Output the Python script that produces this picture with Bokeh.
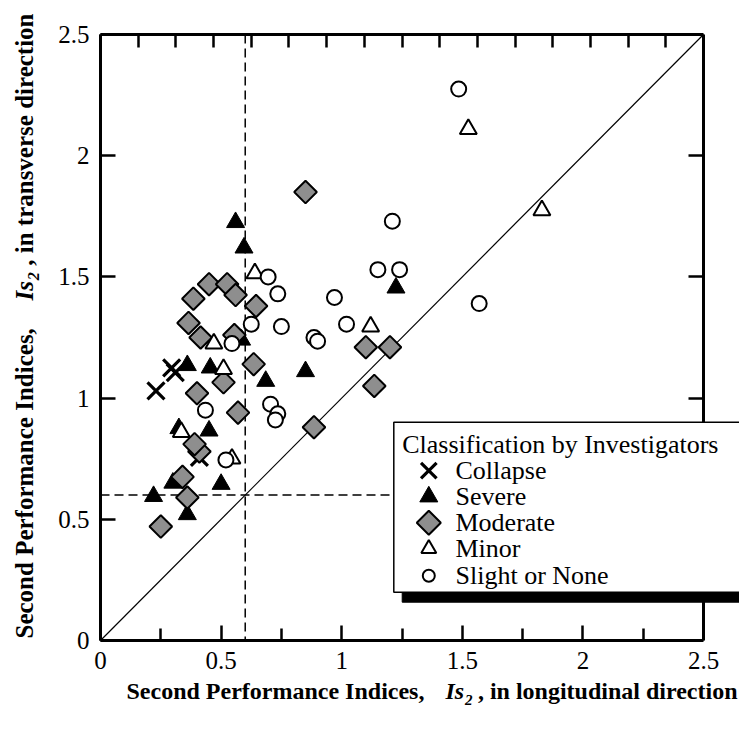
import numpy as np
from bokeh.plotting import figure
from bokeh.layouts import column, row
from bokeh.models import FixedTicker, LinearAxis, Span, Label, BoxAnnotation, Range1d
from bokeh.embed import file_html
from bokeh.resources import INLINE

# ---------------- data ----------------
collapse_x = [0.23, 0.295, 0.31, 0.41]
collapse_y = [1.03, 1.125, 1.105, 0.755]

severe_x = [0.22, 0.30, 0.36, 0.325, 0.45, 0.50, 0.36, 0.455, 0.56, 0.595, 0.585, 0.685, 0.85, 1.225]
severe_y = [0.595, 0.65, 0.52, 0.875, 0.865, 0.645, 1.135, 1.125, 1.725, 1.62, 1.24, 1.07, 1.11, 1.455]

moderate_x = [0.25, 0.36, 0.34, 0.41, 0.39, 0.57, 0.40, 0.51, 0.635, 0.415, 0.555, 0.365,
              0.645, 0.385, 0.45, 0.525, 0.56, 0.85, 0.885, 1.10, 1.20, 1.135]
moderate_y = [0.47, 0.59, 0.675, 0.78, 0.81, 0.94, 1.02, 1.065, 1.14, 1.25, 1.26, 1.31,
              1.38, 1.41, 1.47, 1.47, 1.425, 1.85, 0.88, 1.21, 1.21, 1.05]

minor_x = [0.335, 0.545, 0.51, 0.47, 0.64, 1.12, 1.525, 1.83]
minor_y = [0.86, 0.75, 1.12, 1.225, 1.515, 1.295, 2.11, 1.775]

slight_x = [0.52, 0.435, 0.705, 0.735, 0.725, 0.545, 0.625, 0.695, 0.735, 0.75, 0.885,
            0.90, 0.97, 1.02, 1.15, 1.24, 1.21, 1.485, 1.57]
slight_y = [0.745, 0.95, 0.975, 0.935, 0.91, 1.225, 1.305, 1.50, 1.43, 1.295, 1.25,
            1.235, 1.415, 1.305, 1.53, 1.53, 1.73, 2.275, 1.39]

x_ticks = [0, 0.5, 1, 1.5, 2, 2.5]
x_tick_labels = ["0", "0.5", "1", "1.5", "2", "2.5"]
x_minor_ticks = [0.25, 0.75, 1.25, 1.75, 2.25]
y_ticks = [0, 0.5, 1, 1.5, 2, 2.5]
y_tick_labels = ["0", "0.5", "1", "1.5", "2", "2.5"]
top_ticks = [i * 2.5 / 16 for i in range(17)]

threshold = 0.6
axis_max = 2.5

legend_title = "Classification by Investigators"
legend_labels = ["Collapse", "Severe", "Moderate", "Minor", "Slight or None"]

# ---------------- layout ----------------
W, H = 739, 729
YT_W = 46            # column holding the y-axis title
PW, PH = W - YT_W, 678   # main figure
XT_H = H - PH        # strip holding the x-axis title
BL, BT, BB = 100 - YT_W, 34, 38
FRAME_W_AXIS = 603   # pixels between x=0 and x=2.5
FH = PH - BT - BB
PPU_X = FRAME_W_AXIS / axis_max
PPU_Y = FH / axis_max
x_end = (PW - BL) / PPU_X   # frame runs to the right canvas edge
SERIF = "Liberation Serif"

p = figure(width=PW, height=PH, x_range=Range1d(0, x_end), y_range=Range1d(0, axis_max),
           title=None, output_backend="svg", toolbar_location=None,
           min_border_left=BL, min_border_right=0, min_border_top=BT, min_border_bottom=BB,
           background_fill_color="white", border_fill_color="white")
p.outline_line_color = None
p.xgrid.grid_line_color = None
p.ygrid.grid_line_color = None
HAS_FRAME_ALIGN = "frame_align" in p.properties()


def style_axis(ax, ticks, labels=None, minor=None, tick_in=15, minor_in=11):
    ax.ticker = FixedTicker(ticks=ticks, minor_ticks=minor or [])
    ax.axis_line_width = 3
    ax.axis_line_color = "black"
    ax.major_tick_in = tick_in
    ax.major_tick_out = 0
    ax.major_tick_line_width = 2.5
    ax.minor_tick_in = minor_in
    ax.minor_tick_out = 0
    ax.minor_tick_line_width = 2.5
    if labels:
        ax.major_label_overrides = {t: l for t, l in zip(ticks, labels)}
        ax.major_label_text_font = SERIF
        ax.major_label_text_font_size = "25px"
        ax.major_label_text_color = "black"
    else:
        ax.major_label_overrides = {t: "" for t in ticks}
        ax.major_label_text_color = None
        ax.major_label_standoff = 0


style_axis(p.xaxis[0], x_ticks, x_tick_labels, x_minor_ticks, 15, 12)
p.xaxis[0].major_label_standoff = 11
p.xaxis[0].bounds = (0, axis_max)
style_axis(p.yaxis[0], y_ticks, y_tick_labels)
p.yaxis[0].major_label_standoff = 11

top_ax = LinearAxis(bounds=(0, axis_max))
style_axis(top_ax, top_ticks, None, None, 13)
p.add_layout(top_ax, "above")
right_ax = LinearAxis(fixed_location=axis_max)
style_axis(right_ax, y_ticks)
p.add_layout(right_ax, "right")

# reference lines
p.line([0, axis_max], [0, axis_max], line_color="black", line_width=1.2, level="underlay")
p.add_layout(Span(location=threshold, dimension="height", line_color="black",
                  line_width=1.5, line_dash="9 5", level="underlay"))
p.add_layout(Span(location=threshold, dimension="width", line_color="black",
                  line_width=1.5, line_dash="9 5", level="underlay"))

# ---------------- data marks ----------------
GRAY = "#8e8e8e"
styles = [
    dict(marker="x", size=24, line_color="black", line_width=3.2),
    dict(marker="triangle", size=18, fill_color="black", line_color="black", line_width=1),
    dict(marker="square", angle=np.pi / 4, size=16, fill_color=GRAY, line_color="black", line_width=2),
    dict(marker="triangle", size=17, fill_color="white", line_color="black", line_width=2),
    dict(marker="circle", size=15, fill_color="white", line_color="black", line_width=2),
]
series = [(collapse_x, collapse_y), (severe_x, severe_y), (moderate_x, moderate_y),
          (minor_x, minor_y), (slight_x, slight_y)]
for (xs, ys), st in zip(series, styles):
    p.scatter(xs, ys, **st)

# ---------------- legend (box with shadow) ----------------
# positions in screen pixels relative to the plot frame (origin bottom-left)
p.add_layout(BoxAnnotation(left=301.7, right=700, bottom=38.3, top=210,
                           left_units="screen", right_units="screen",
                           bottom_units="screen", top_units="screen",
                           fill_color="black", fill_alpha=1, line_color="black", line_alpha=1))
p.add_layout(BoxAnnotation(left=293.3, right=700, bottom=48.3, top=218.3,
                           left_units="screen", right_units="screen",
                           bottom_units="screen", top_units="screen",
                           fill_color="white", fill_alpha=1, line_color="black",
                           line_alpha=1, line_width=1.5))
p.add_layout(Label(x=301.7, y=195.8, x_units="screen", y_units="screen", text=legend_title,
                   text_font=SERIF, text_font_size="26px", text_color="black",
                   text_align="left", text_baseline="middle"))
row_mid = [169.8, 143.8, 117.8, 91.8, 64.8]
key_sizes = [22, 18, 17, 15, 12]
key_px_x = 328.3
for lab_text, ym, st, ks in zip(legend_labels, row_mid, styles, key_sizes):
    p.add_layout(Label(x=355, y=ym, x_units="screen", y_units="screen", text=lab_text,
                       text_font=SERIF, text_font_size="26px", text_color="black",
                       text_align="left", text_baseline="middle"))
    kst = dict(st)
    kst["size"] = ks
    p.scatter([key_px_x / PPU_X], [ym / PPU_Y], level="overlay", **kst)

# ---------------- axis titles (separate strips, pixel coordinates) ----------------
def strip(w, h, y_lo=None, y_hi=None):
    f = figure(width=w, height=h, x_range=Range1d(0, w),
               y_range=Range1d(0 if y_lo is None else y_lo, h if y_hi is None else y_hi),
               title=None, output_backend="svg", toolbar_location=None,
               x_axis_location=None, y_axis_location=None, min_border=0,
               background_fill_color="white", border_fill_color="white")
    f.outline_line_color = None
    f.grid.visible = False
    if HAS_FRAME_ALIGN:
        f.frame_align = False
    return f


def lab(fig, x, y, text, style, size, align="center", angle=0.0):
    fig.add_layout(Label(x=x, y=y, text=text, angle=angle, text_font=SERIF,
                         text_font_style=style, text_font_size=size,
                         text_color="black", text_align=align, text_baseline="middle"))


# x title: strip below the main figure (y measured from the strip bottom)
xfig = strip(W, XT_H)
xc = H - 690.5
lab(xfig, 126, xc, "Second Performance Indices,", "bold", "24px", "left")
lab(xfig, 454.3, xc, "Is", "bold italic", "24px")
lab(xfig, 468.3, xc - 9.2, "2", "bold italic", "15px")
lab(xfig, 737, xc, ", in longitudinal direction", "bold", "24px", "right")

# y title: strip left of the main figure, text rotated (reads upwards)
if HAS_FRAME_ALIGN:
    p.frame_align = False
    yfig = strip(YT_W, PH)
    k, yfs, yfs2 = 1.0, "25px", "16px"
else:
    # strip frame gets aligned with the main frame: map that frame in pixels and fit inside
    yfig = strip(YT_W, PH, BB, PH - BT)
    k, yfs, yfs2 = (638 - 37) / (638 - 13), "24px", "15px"


def ys(gy):
    # screen pixel row -> strip data coordinate
    return PH - (638 - (638 - gy) * k)


yc = 24.0
lab(yfig, yc, ys(638), "Second Performance Indices,", "bold", yfs, "left", np.pi / 2)
lab(yfig, yc, ys(290.3), "Is", "bold italic", yfs, "center", np.pi / 2)
lab(yfig, yc + 9.3, ys(275.7), "2", "bold italic", yfs2, "center", np.pi / 2)
lab(yfig, yc, ys(13), ", in transverse direction", "bold", yfs, "right", np.pi / 2)

layout = column(row(yfig, p, spacing=0), xfig, spacing=0)
open("out.html", "w").write(file_html(layout, INLINE))
